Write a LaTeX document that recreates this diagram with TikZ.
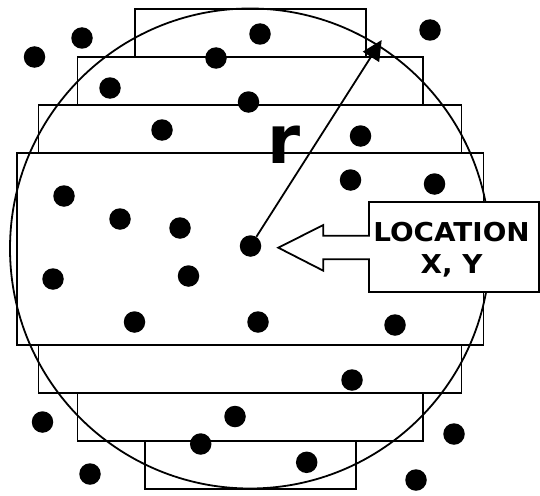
\documentclass[tikz,border=0pt]{standalone}
\usepackage{fontspec}
\setmainfont{DejaVu Sans}
\newfontfamily\lblfont[FakeStretch=1.07]{DejaVu Sans}
\usetikzlibrary{arrows.meta}
\begin{document}
\begin{tikzpicture}[x=1pt,y=-1pt,
  band/.style={draw=black,line width=1.8pt},
  ring/.style={draw=black,line width=1.8pt},
  dot/.style={circle,fill=black,inner sep=0pt,minimum size=21.5pt},
  radline/.style={draw=black,line width=1.8pt,-{Triangle[length=20pt,width=19pt]}},
  callout/.style={draw=black,fill=white,line width=1.8pt,line join=miter},
  lbl/.style={font=\lblfont\bfseries\fontsize{26}{30}\selectfont,inner sep=0pt,anchor=base},
  rlbl/.style={font=\bfseries\fontsize{67}{70}\selectfont,inner sep=0pt,anchor=base}
]
\useasboundingbox (0,0) rectangle (540,495);
\fill[white] (0,0) rectangle (540,495);
% stacked bands
\draw[band] (135,9) rectangle (366,57);
\draw[band] (77.5,57) rectangle (423,105);
\draw[band] (38.5,105) rectangle (461.5,153);
\draw[band] (16.7,153) rectangle (483.5,345);
\draw[band] (38.5,345) rectangle (461.5,393);
\draw[band] (77.5,393) rectangle (423,441);
\draw[band] (145,441) rectangle (356,489);
% circle
\draw[ring] (250,248.5) circle[x radius=240pt, y radius=240pt];
% dots
\node[dot] (d1) at (34.5,57) {};
\node[dot] (d2) at (82,38) {};
\node[dot] (d3) at (216,58) {};
\node[dot] (d4) at (260,34) {};
\node[dot] (d5) at (430,30) {};
\node[dot] (d6) at (110,88) {};
\node[dot] (d7) at (248.5,102) {};
\node[dot] (d8) at (162,130) {};
\node[dot] (d9) at (360.5,136) {};
\node[dot] (d10) at (350.5,180) {};
\node[dot] (d11) at (434.5,184) {};
\node[dot] (d12) at (64,196) {};
\node[dot] (d13) at (120,219) {};
\node[dot] (d14) at (180,228) {};
\node[dot] (c) at (250.5,246) {};
\node[dot] (d16) at (53,279) {};
\node[dot] (d17) at (188.5,276) {};
\node[dot] (d18) at (134.5,322) {};
\node[dot] (d19) at (258,322) {};
\node[dot] (d20) at (395,325) {};
\node[dot] (d21) at (352,380) {};
\node[dot] (d22) at (42.5,422) {};
\node[dot] (d23) at (235,416.5) {};
\node[dot] (d24) at (454,434) {};
\node[dot] (d25) at (200.7,444) {};
\node[dot] (d26) at (90,474) {};
\node[dot] (d27) at (306.7,462.3) {};
\node[dot] (d28) at (416,480) {};
% radius arrow
\coordinate (tip) at (381.7,40);
\draw[radline] (c) -- (tip);
\node[rlbl] (r) at (284.5,163.3) {r};
% location callout
\draw[callout] (539,202) -- (369,202) -- (369,235.7) -- (323.3,235.7) -- (323.3,225)
  -- (278.3,247.7) -- (323.3,270.7) -- (323.3,259.3) -- (369,259.3) -- (369,292)
  -- (539,292) -- cycle;
\node[lbl] (loc) at (451.5,241.7) {LOCATION};
\node[lbl] (xy) at (451.5,273) {X, Y};
\end{tikzpicture}
\end{document}
